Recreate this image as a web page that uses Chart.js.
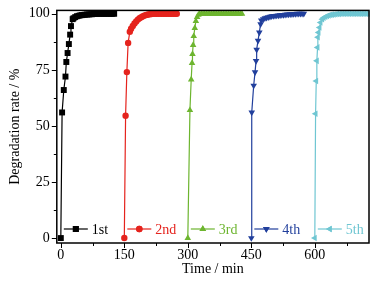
<!DOCTYPE html>
<html lang="en">
<head>
    <meta charset="UTF-8">
    <script src="https://cdn.jsdelivr.net/npm/chart.js@4.4.0/dist/chart.umd.min.js"></script>
    <title>Degradation rate</title>
    <style>
        body{margin:0; background:#fff;}
        #box{width:385px; height:283px;}
    </style>
</head>
<body>
    <div id="box">
        <canvas id="myChart"></canvas>
    </div>
    <script>
        // data
        const labels = ['1st', '2nd', '3rd', '4th', '5th']
        const colors = ['#000000', '#e5231d', '#6db52f', '#213f9c', '#6fc6d2']
        const shapes = ['rect', 'circle', 'triangle', 'triangle', 'triangle']
        const rotations = [0, 0, 0, 180, -90]

        const t1 = [0, 3, 7, 11, 13, 16, 19, 22, 24, 28, 30, 34, 38, 42, 46, 50, 54, 58, 62, 66, 70, 74, 78, 82, 86, 90, 94, 98, 102, 106, 110, 114, 118, 122, 126]
        const r1 = [0, 56, 66, 72, 78.5, 82.5, 86.5, 90.7, 94.5, 97.6, 98.0, 98.5, 98.9, 99.1, 99.3, 99.4, 99.5, 99.6, 99.7, 99.7, 99.8, 99.8, 99.9, 99.9, 100, 100, 100, 100, 100, 100, 100, 100, 100, 100, 100]

        const t2 = [150, 153, 156, 159, 163, 166, 170, 174, 178, 182, 186, 190, 194, 198, 202, 206, 210, 214, 218, 222, 226, 230, 234, 238, 242, 246, 250, 254, 258, 262, 266, 270, 274]
        const r2 = [0, 54.5, 74, 87, 92, 93.3, 94.6, 95.7, 96.6, 97.4, 98.0, 98.5, 98.9, 99.2, 99.5, 99.7, 99.8, 99.9, 100, 100, 100, 100, 100, 100, 100, 100, 100, 100, 100, 100, 100, 100, 100]

        const t3 = [300, 305, 308, 310, 311, 312.5, 314, 316.5, 319, 322, 325, 328, 332, 336, 340, 344, 348, 352, 356, 360, 364, 368, 372, 376, 380, 384, 388, 392, 396, 400, 404, 408, 412, 416, 420, 424, 428]
        const r3 = [0, 57, 70.7, 78, 82, 86, 90, 93.6, 96.7, 98.5, 99.5, 100, 100, 100, 100, 100, 100, 100, 100, 100, 100, 100, 100, 100, 100, 100, 100, 100, 100, 100, 100, 100, 100, 100, 100, 100, 100]

        const t4 = [450, 451, 455.6, 458.8, 461.2, 462.6, 465.8, 468.9, 471.9, 473.5, 478, 482, 486, 490, 494, 498, 502, 506, 510, 514, 518, 522, 526, 530, 534, 538, 542, 546, 550, 554, 558, 562, 566, 570, 574]
        const r4 = [0, 56, 68, 74, 79, 84, 88, 91.7, 95.4, 97, 97.6, 98.0, 98.3, 98.5, 98.7, 98.9, 99.0, 99.1, 99.2, 99.3, 99.4, 99.5, 99.5, 99.6, 99.7, 99.7, 99.8, 99.8, 99.9, 99.9, 100, 100, 100, 100, 100]

        const t5 = [600, 601.8, 603.4, 604.8, 606.5, 607.2, 608.8, 611.2, 613.5, 617.5, 621, 625, 629, 633, 637, 641, 645, 649, 653, 657, 661, 665, 669, 673, 677, 681, 685, 689, 693, 697, 701, 705, 709, 713, 717, 721, 725]
        const r5 = [0, 55.4, 70, 79, 85, 89.5, 91.7, 93.9, 96.1, 97.6, 98.2, 98.7, 99.0, 99.3, 99.5, 99.6, 99.7, 99.8, 99.9, 99.9, 100, 100, 100, 100, 100, 100, 100, 100, 100, 100, 100, 100, 100, 100, 100, 100, 100]

        const times = [t1, t2, t3, t4, t5]
        const rates = [r1, r2, r3, r4, r5]

        const xTicks = [0, 75, 150, 225, 300, 375, 450, 525, 600, 675]
        const xLabels = [0, 150, 300, 450, 600]
        const yTicks = [0, 12.5, 25, 37.5, 50, 62.5, 75, 87.5, 100]
        const yLabels = [0, 25, 50, 75, 100]

        const serif = 'Liberation Serif'

        const datasets = labels.map(function(name, i){
            return {
                label: name,
                data: times[i].map(function(t, k){ return {x: t, y: rates[i][k]} }),
                borderColor: colors[i],
                backgroundColor: colors[i],
                borderWidth: 1.2,
                pointStyle: shapes[i],
                pointRotation: rotations[i],
                pointRadius: i == 0 ? 4.2 : (i == 1 ? 3.2 : 3.8),
                pointBorderWidth: 0,
                tension: 0,
                clip: false
            }
        })

        // box, tick marks and legend inside the plot
        const decor = {
            id: 'decor',
            afterDraw: function(chart){
                const ctx = chart.ctx
                const a = chart.chartArea
                const xs = chart.scales.x
                const ys = chart.scales.y
                ctx.save()
                ctx.strokeStyle = '#000'
                ctx.lineWidth = 1.5
                ctx.strokeRect(a.left, a.top, a.right - a.left, a.bottom - a.top)
                ctx.lineWidth = 1
                xTicks.forEach(function(v){
                    const px = Math.round(xs.getPixelForValue(v)) + 0.5
                    const len = xLabels.indexOf(v) >= 0 ? 5 : 3
                    ctx.beginPath()
                    ctx.moveTo(px, a.bottom)
                    ctx.lineTo(px, a.bottom + len)
                    ctx.stroke()
                })
                yTicks.forEach(function(v){
                    const py = Math.round(ys.getPixelForValue(v)) + 0.5
                    const len = yLabels.indexOf(v) >= 0 ? 5 : 3
                    ctx.beginPath()
                    ctx.moveTo(a.left, py)
                    ctx.lineTo(a.left - len, py)
                    ctx.stroke()
                })
                // legend
                const ly = a.bottom - 14
                ctx.font = '14px "' + serif + '"'
                ctx.textBaseline = 'middle'
                ctx.textAlign = 'left'
                labels.forEach(function(name, i){
                    const x0 = xs.getPixelForValue(times[i][0]) + 3
                    ctx.strokeStyle = colors[i]
                    ctx.fillStyle = colors[i]
                    ctx.lineWidth = 1.2
                    ctx.beginPath()
                    ctx.moveTo(x0, ly)
                    ctx.lineTo(x0 + 24, ly)
                    ctx.stroke()
                    Chart.helpers.drawPoint(ctx, {
                        pointStyle: shapes[i],
                        rotation: rotations[i],
                        radius: datasets[i].pointRadius,
                        borderWidth: 0
                    }, x0 + 12, ly)
                    ctx.fill()
                    ctx.fillText(name, x0 + 28, ly + 1)
                })
                ctx.restore()
            }
        }

        const ctx = document.getElementById('myChart').getContext('2d')
        const myChart = new Chart(ctx, {
            type: 'line',
            data: {datasets: datasets},
            options: {
                responsive: true,
                maintainAspectRatio: false,
                animation: false,
                devicePixelRatio: 1,
                layout: {padding: {top: 10, right: 16, left: 4, bottom: 0}},
                plugins: {legend: {display: false}, tooltip: {enabled: false}},
                scales: {
                    x: {
                        type: 'linear',
                        min: -9.5,
                        max: 728,
                        afterBuildTicks: function(s){ s.ticks = xTicks.map(function(v){ return {value: v} }) },
                        grid: {drawOnChartArea: false, drawTicks: true, tickLength: 5, color: 'rgba(0,0,0,0)'},
                        border: {display: false},
                        ticks: {
                            color: '#000', maxRotation: 0, autoSkip: false, padding: 0,
                            font: {family: serif, size: 14, lineHeight: 1},
                            callback: function(v){ return xLabels.indexOf(v) >= 0 ? String(v) : '' }
                        },
                        title: {display: true, text: 'Time / min', color: '#000', font: {family: serif, size: 14, lineHeight: 1}, padding: {top: 0, bottom: 7}}
                    },
                    y: {
                        type: 'linear',
                        min: -2.2,
                        max: 101.5,
                        afterBuildTicks: function(s){ s.ticks = yTicks.map(function(v){ return {value: v} }) },
                        grid: {drawOnChartArea: false, drawTicks: true, tickLength: 5, color: 'rgba(0,0,0,0)'},
                        border: {display: false},
                        ticks: {
                            color: '#000', autoSkip: false, padding: 2,
                            font: {family: serif, size: 14},
                            callback: function(v){ return yLabels.indexOf(v) >= 0 ? String(v) : '' }
                        },
                        title: {display: true, text: 'Degradation rate / %', color: '#000', font: {family: serif, size: 14}, padding: {top: 3, bottom: 3}}
                    }
                }
            },
            plugins: [decor]
        })//chart
    </script>
</body>
</html>
